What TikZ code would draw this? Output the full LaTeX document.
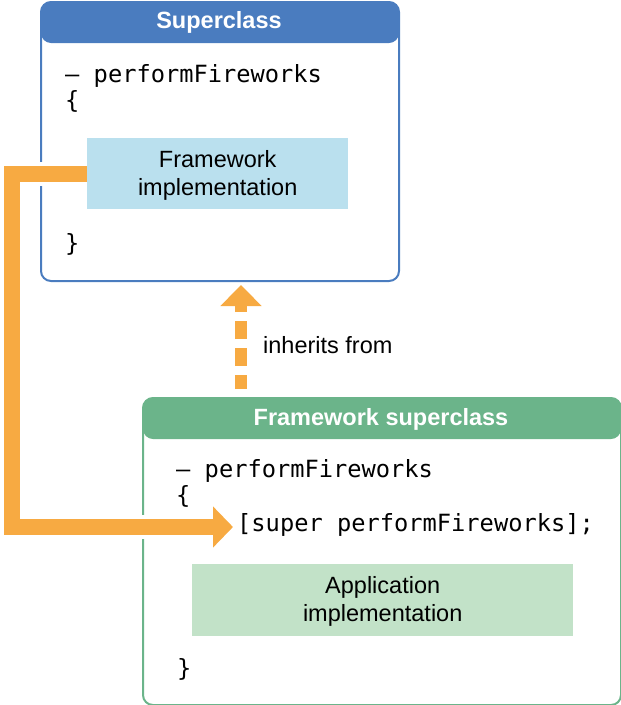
\documentclass[tikz,border=0pt]{standalone}
\usepackage{fontspec}
\setmainfont{Liberation Sans}
\setmonofont{DejaVu Sans Mono}
\usetikzlibrary{arrows.meta}
\definecolor{hdrblue}{HTML}{4A7CBF}
\definecolor{hdrgreen}{HTML}{6BB48A}
\definecolor{lightblue}{HTML}{BAE0EE}
\definecolor{lightgreen}{HTML}{C2E2C8}
\definecolor{orng}{HTML}{F7AA42}
\begin{document}
\begin{tikzpicture}[x=1pt,y=1pt,
  classbox/.style={draw=#1, line width=2pt, rounded corners=10pt, anchor=north west, inner sep=0pt,
    path picture={\fill[#1] (path picture bounding box.north west) rectangle ([yshift=-41pt]path picture bounding box.north east);}},
  hdrtext/.style={text=white, font=\fontsize{23.5}{28}\selectfont\bfseries, inner sep=0pt, anchor=base},
  code/.style={font=\fontsize{23.7}{28}\selectfont\ttfamily, inner sep=0pt, anchor=base west},
  implbox/.style={fill=#1, anchor=north west, inner sep=0pt},
  impltext/.style={align=center, inner sep=0pt, font=\fontsize{23.5}{28}\selectfont},
  lbl/.style={font=\fontsize{23.5}{28}\selectfont, inner sep=0pt, anchor=base west},
  callarrow/.style={draw=orng, line width=16pt, line join=miter, -{Triangle[width=40pt,length=20pt]}},
  halo/.style={draw=white, line width=24pt, line join=miter},
  inharrow/.style={draw=orng, line width=12pt, dash pattern=on 18pt off 9pt, dash phase=4pt, -{Triangle[width=40pt,length=21pt]}}
]
\useasboundingbox (0,0) rectangle (621,-705);

% Superclass box
\node[classbox=hdrblue, minimum width=358pt, minimum height=279pt] (sup) at (40,-1) {};
\node[hdrtext] (suphdr) at (219,-28) {Superclass};
\node[code] (supc1) at (65,-82) {– performFireworks};
\node[code] (supc2) at (65,-108) {\{};
\node[implbox=lightblue, minimum width=261pt, minimum height=71pt] (fw) at (87,-138) {};
\node[impltext] (fwtext) at ([yshift=-2pt]fw.center) {Framework\\implementation};
\node[code] (supc3) at (65,-251) {\}};

% Framework superclass box
\node[classbox=hdrgreen, minimum width=478pt, minimum height=307pt] (fsup) at (142,-397) {};
\node[hdrtext] (fsuphdr) at (381,-425) {Framework superclass};
\node[code] (fc1) at (176,-477) {– performFireworks};
\node[code] (fc2) at (176,-503) {\{};
\node[code] (call) at (237,-531) {[super performFireworks];};
\node[implbox=lightgreen, minimum width=381pt, minimum height=72pt] (app) at (192,-564) {};
\node[impltext] (apptext) at ([yshift=-1pt]app.center) {Application\\implementation};
\node[code] (fc3) at (177,-676) {\}};

% inherits arrow
\coordinate (inhS) at (241,-389);
\coordinate (inhE) at (241,-285);
\draw[inharrow] (inhS) -- (inhE);
\node[lbl] (inh) at (263,-353) {inherits from};

% call arrow
\coordinate (turn) at (12,-527);
\coordinate (tip) at (233,-527);
\draw[halo] (fw.west) -| (turn) -- (200,-527);
\draw[callarrow] (fw.west) -| (turn) -- (tip);
\end{tikzpicture}
\end{document}
